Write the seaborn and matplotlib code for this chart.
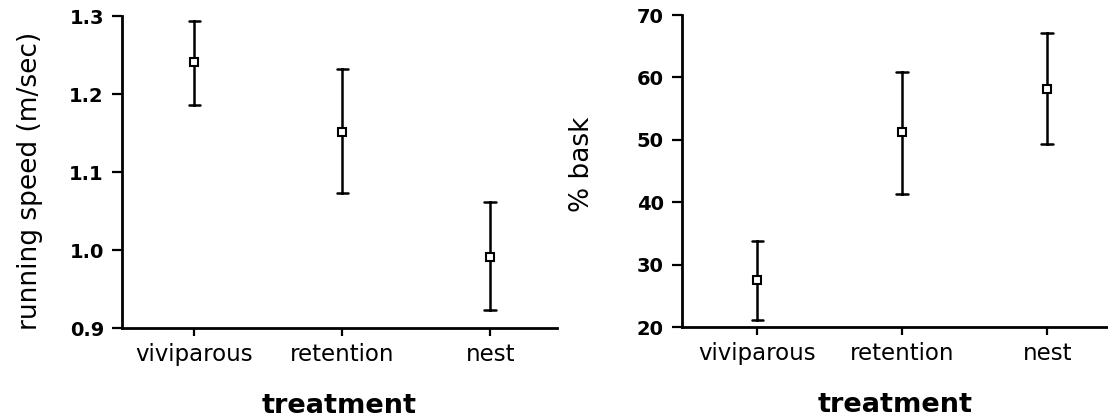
import numpy as np
import pandas as pd
import matplotlib
matplotlib.use("Agg")
import matplotlib.pyplot as plt
import seaborn as sns

# ---- data ----
treatments = ["viviparous", "retention", "nest"]

speed_mean = [1.241, 1.151, 0.991]
speed_low = [1.186, 1.073, 0.923]
speed_high = [1.293, 1.232, 1.061]

bask_mean = [27.5, 51.3, 58.1]
bask_low = [21.2, 41.3, 49.4]
bask_high = [33.8, 60.8, 67.1]

speed_ticks = [0.9, 1.0, 1.1, 1.2, 1.3]
bask_ticks = [20, 30, 40, 50, 60, 70]


def long_table(means, lows, highs, name):
    rows = []
    for t, m, lo, hi in zip(treatments, means, lows, highs):
        for v in (lo, m, hi):
            rows.append({"treatment": t, name: v})
    return pd.DataFrame(rows)


df_speed = long_table(speed_mean, speed_low, speed_high, "speed")
df_bask = long_table(bask_mean, bask_low, bask_high, "bask")

sns.set_theme(style="ticks")
plt.rcParams["font.family"] = ["DejaVu Sans"]

fig = plt.figure(figsize=(11.08, 4.17), dpi=100)
ax1 = fig.add_axes([0.1101, 0.2134, 0.3926, 0.7482])
ax2 = fig.add_axes([0.6155, 0.2158, 0.3845, 0.7482])


def draw(ax, df, col):
    sns.pointplot(data=df, x="treatment", y=col, order=treatments,
                  estimator="median", errorbar=lambda v: (v.min(), v.max()),
                  linestyle="none", marker="s", color="black",
                  markersize=5.5, markerfacecolor="white",
                  markeredgecolor="black", markeredgewidth=1.5,
                  capsize=0.08, err_kws={"linewidth": 1.8}, ax=ax)
    for ln in ax.lines:
        if ln.get_marker() == "s":
            ln.set_zorder(5)


draw(ax1, df_speed, "speed")
draw(ax2, df_bask, "bask")

for ax in (ax1, ax2):
    sns.despine(ax=ax)
    for s in ("left", "bottom"):
        ax.spines[s].set_linewidth(2.0)
        ax.spines[s].set_color("black")
    ax.tick_params(axis="y", direction="out", length=7, width=1.6,
                   pad=6, labelsize=14, colors="black")
    ax.tick_params(axis="x", direction="out", length=6, width=1.6,
                   pad=5, labelsize=16.5, colors="black")
    ax.set_xlabel("treatment", fontsize=19.5, fontweight="bold",
                  labelpad=19, color="black")

ax1.set_xlim(-0.49, 2.45)
ax2.set_xlim(-0.52, 2.42)

ax1.set_ylim(0.9, 1.3)
ax1.set_yticks(speed_ticks)
ax1.set_yticklabels([f"{t:.1f}" for t in speed_ticks], fontweight="bold")
ax1.set_ylabel("running speed (m/sec)", fontsize=19, color="black")
ax1.yaxis.set_label_coords(-0.182, 0.47)

ax2.set_ylim(20, 70)
ax2.set_yticks(bask_ticks)
ax2.set_yticklabels([str(t) for t in bask_ticks], fontweight="bold")
ax2.set_ylabel("% bask", fontsize=19, color="black")
ax2.yaxis.set_label_coords(-0.204, 0.52)

fig.savefig("out.png", dpi=100, facecolor="white")
